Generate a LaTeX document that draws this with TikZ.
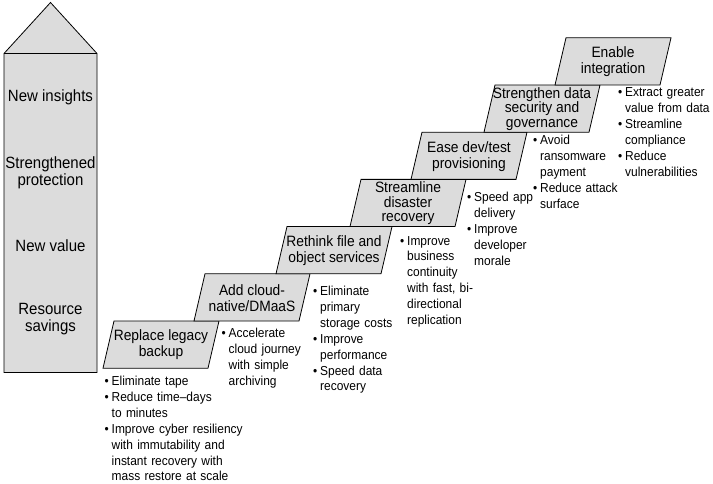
\documentclass[tikz,border=0pt]{standalone}
\usepackage{fontspec}
\setmainfont{Liberation Sans}[FakeStretch=0.92]
\definecolor{boxgray}{RGB}{220,220,220}
\tikzset{
  shp/.style={draw=black, fill=boxgray, line width=0.8pt, line join=miter},
  boxtext/.style={align=center, font=\fontsize{15}{16}\selectfont, inner sep=0pt},
  boxtextthree/.style={align=center, font=\fontsize{15}{14.6}\selectfont, inner sep=0pt},
  coltext/.style={align=center, font=\fontsize{16.3}{17.5}\selectfont, inner sep=0pt},
  bullets/.style={anchor=base west, text width=140pt, align=left, font=\fontsize{13}{15.9}\selectfont, inner sep=0pt},
}
\newcommand\bul{\makebox[7pt][l]{•}}
\newcommand\ind{\hspace*{7pt}}
\newcommand\stepbox[5]{% name, x, y, style, text
  \draw[shp] (#2,#3) -- ++(105,0) -- ++(-11,47.2) -- ++(-105,0) -- cycle;
  \node[#4] (#1) at (#2+47,#3+24) {#5};
}
\begin{document}
\begin{tikzpicture}[x=1pt,y=-1pt]
\useasboundingbox (0,0) rectangle (713,484);
% column
\draw[shp] (4,372.5) -- (4,53.5) -- (50.5,2.5) -- (97,53.5) -- (97,372.5) -- cycle;
\draw[shp] (4,53.5) -- (97,53.5);
\node[coltext] (c1) at (50.5,97) {New insights};
\node[coltext] (c2) at (50.5,173) {Strengthened\\protection};
\node[coltext] (c3) at (50.5,246) {New value};
\node[coltext] (c4) at (50.5,319) {Resource\\savings};
% steps
\stepbox{s1}{114}{321}{boxtext}{Replace legacy\\backup}
\stepbox{s2}{205}{273.8}{boxtext}{Add cloud-\\native/DMaaS}
\stepbox{s3}{287}{226.6}{boxtext}{Rethink file and\\object services}
\stepbox{s4}{361}{179.4}{boxtextthree}{Streamline\\disaster\\recovery}
\stepbox{s5}{422}{132.2}{boxtext}{Ease dev/test\\provisioning}
\stepbox{s6}{495}{85}{boxtextthree}{Strengthen data\\security and\\governance}
\stepbox{s7}{566}{37.8}{boxtext}{Enable\\integration}
% bullets
\node[bullets] (b1) at (104.5,385.5) {\bul Eliminate tape\\\bul Reduce time–days\\\ind to minutes\\\bul Improve cyber resiliency\\\ind with immutability and\\\ind instant recovery with\\\ind mass restore at scale};
\node[bullets] (b2) at (221.5,337.5) {\bul Accelerate\\\ind cloud journey\\\ind with simple\\\ind archiving};
\node[bullets] (b3) at (313,295.5) {\bul Eliminate\\\ind primary\\\ind storage costs\\\bul Improve\\\ind performance\\\bul Speed data\\\ind recovery};
\node[bullets] (b4) at (400,245) {\bul Improve\\\ind business\\\ind continuity\\\ind with fast, bi-\\\ind directional\\\ind replication};
\node[bullets] (b5) at (467,201.7) {\bul Speed app\\\ind delivery\\\bul Improve\\\ind developer\\\ind morale};
\node[bullets] (b6) at (533,145) {\bul Avoid\\\ind ransomware\\\ind payment\\\bul Reduce attack\\\ind surface};
\node[bullets] (b7) at (618,96.7) {\bul Extract greater\\\ind value from data\\\bul Streamline\\\ind compliance\\\bul Reduce\\\ind vulnerabilities};
\end{tikzpicture}
\end{document}
